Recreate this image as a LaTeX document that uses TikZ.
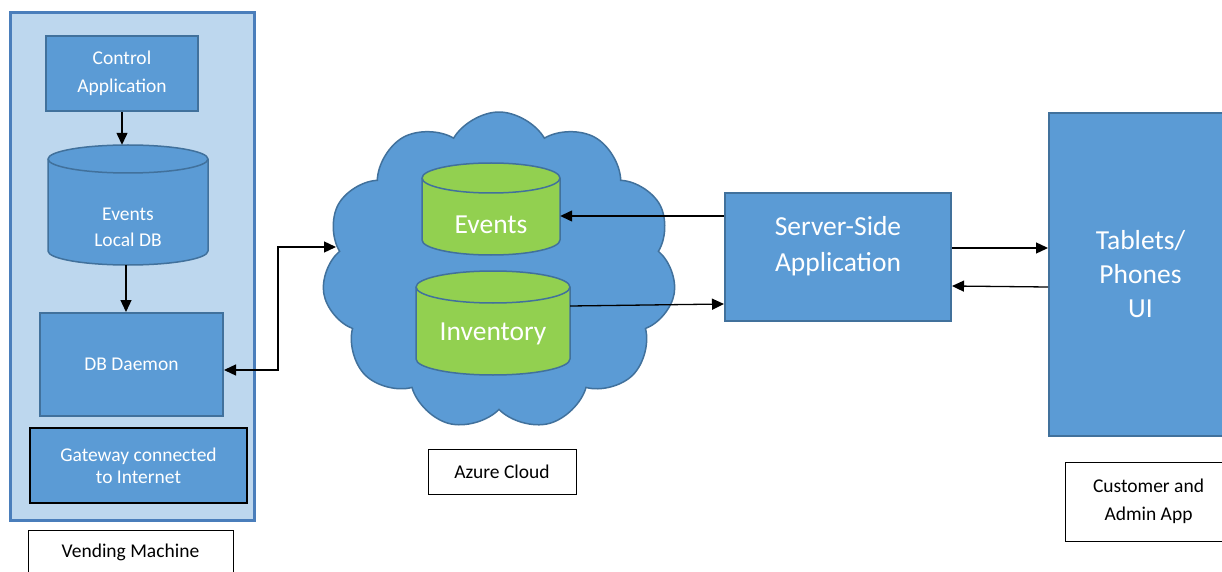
\documentclass[tikz,border=0pt]{standalone}
\usepackage{fontspec}
\setmainfont{Carlito}
\usetikzlibrary{shapes.symbols,arrows.meta}
\definecolor{boxblue}{HTML}{5B9BD5}
\definecolor{edgeblue}{HTML}{41719C}
\definecolor{paleblue}{HTML}{BDD7EE}
\definecolor{vmedge}{HTML}{4A7EBB}
\definecolor{dbgreen}{HTML}{92D050}
\newcommand\dbcyl[6]{% cx, Ytop-centre, Ybottom-centre, rx, ry, fill
  \filldraw[draw=edgeblue, line width=1.5pt, fill=#6]
    (#1-#4,#2) -- (#1-#4,#3) arc[start angle=180,end angle=360,x radius=#4,y radius=#5]
    -- (#1+#4,#2) arc[start angle=0,end angle=180,x radius=#4,y radius=#5] -- cycle;
  \draw[edgeblue, line width=1.5pt] (#1-#4,#2) arc[start angle=180,end angle=360,x radius=#4,y radius=#5];
}
\begin{document}
\begin{tikzpicture}[x=1pt,y=1pt,
  bluebox/.style={draw=edgeblue, line width=2pt, fill=boxblue, text=white, align=center, inner sep=0pt},
  tag/.style={draw=black, line width=1pt, fill=white, align=center, inner sep=0pt},
  hole/.style={inner sep=0pt},
  wtext/.style={text=white, align=center, inner sep=0pt},
  tip/.style={Triangle[length=12pt,width=11pt]},
  conn/.style={line width=1.3pt, -{Triangle[length=12pt,width=11pt]}},
  small/.style={font=\fontsize{19.5}{28}\selectfont},
  big/.style={font=\fontsize{27.5}{36}\selectfont}]
\useasboundingbox (0,0) rectangle (1222,571);

% Vending machine
\node[draw=vmedge, line width=3pt, fill=paleblue, minimum width=244, minimum height=507, inner sep=0] (vm) at (132,304.5) {};
\node[bluebox, small, minimum width=152, minimum height=75] (ctrl) at (122,497.5) {Control\\Application};
\dbcyl{128}{412}{320}{80}{14}{boxblue}
\node[hole, minimum width=160, minimum height=120] (ldb) at (128,366) {};
\node[wtext, font=\fontsize{19.5}{26}\selectfont] (ldbt) at (128,344) {Events\\Local DB};
\node[bluebox, small, minimum width=183, minimum height=103] (dbd) at (131.5,206.5) {DB Daemon};
\node[bluebox, draw=black, line width=1.5pt, font=\fontsize{19.5}{22}\selectfont, minimum width=217, minimum height=75] (gw) at (138.5,105.5) {Gateway connected\\to Internet};
\node[tag, small, minimum width=205, minimum height=45] (vml) at (130.5,18.5) {Vending Machine};

% Cloud
\node[cloud, cloud puffs=11, cloud puff arc=120, aspect=1.11, draw=edgeblue, line width=1.5pt, fill=boxblue,
      minimum width=354, minimum height=318, inner sep=0] (cloud) at (499,300) {};
\dbcyl{491}{393}{331}{69}{15}{dbgreen}
\node[hole, minimum width=138, minimum height=92] (ev) at (491,362) {};
\node[wtext, big] (evt) at (491,346) {Events};
\dbcyl{493}{284}{212}{77}{16}{dbgreen}
\node[hole, minimum width=154, minimum height=104] (inv) at (493,248) {};
\node[wtext, big] (invt) at (493,237) {Inventory};
\node[tag, small, minimum width=148, minimum height=45] (azl) at (502,99.5) {Azure Cloud};

% Server and tablets
\node[bluebox, minimum width=226, minimum height=128] (srv) at (838,314) {};
\node[wtext, big] (srvt) at (838,325) {Server-Side\\Application};
\node[bluebox, font=\fontsize{27.5}{34}\selectfont, minimum width=183, minimum height=323] (tab) at (1140.5,296.5) {Tablets/\\Phones\\UI};
\node[tag, small, minimum width=167, minimum height=79] (cal) at (1148.5,69.5) {Customer and\\Admin App};

% Connectors
\coordinate (cin) at (336,324);
\draw[conn] (ctrl.south) -- (ctrl.south |- ldb.north);
\draw[conn] ([xshift=-2]ldb.south) -- ([xshift=-2]ldb.south |- dbd.north);
\draw[line width=1.3pt, {Triangle[length=12pt,width=11pt]}-{Triangle[length=12pt,width=11pt]}]
  ([yshift=-5.5]dbd.east) -- (278,201) |- (cin);
\draw[conn] (srv.west |- 0,355) -- (ev.east |- 0,355);
\draw[conn] (inv.east |- 0,265) -- (srv.west |- 0,267);
\draw[conn] (srv.east |- 0,323) -- (tab.west |- 0,323);
\draw[conn] (tab.west |- 0,284) -- (srv.east |- 0,285);
\end{tikzpicture}
\end{document}
